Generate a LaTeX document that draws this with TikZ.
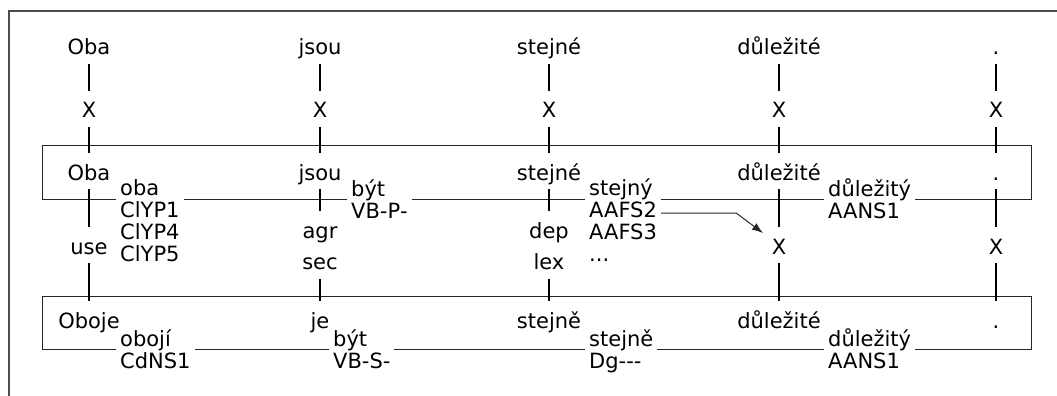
\documentclass[tikz,border=0pt]{standalone}
\usepackage{fontspec}
\setmainfont{DejaVu Sans}
\usetikzlibrary{arrows.meta, positioning}
\newcommand{\hy}{\mbox{-}}
\tikzstyle{every node}=[font=\fontsize{21pt}{21.7pt}\selectfont]
\tikzstyle{word}=[inner sep=3pt, text height=24pt, text depth=6pt]
\tikzstyle{lbl}=[word, fill=white]
\tikzstyle{lemma}=[fill=white, align=left, inner xsep=4pt, inner ysep=1pt, anchor=base west]
\tikzstyle{tick}=[line width=2pt]
\tikzstyle{frame}=[line width=1pt, black!85]

\begin{document}
\begin{tikzpicture}[x=1pt, y=-1pt, >={Latex[length=11pt,width=8pt]}, node distance=230pt]
    \useasboundingbox (0,0) rectangle (1057,396);
    \draw[line width=1.3pt, black!70] (9,396) |- (1057,11);
    % the two layers
    \draw[frame] (42,145) rectangle (1031,199);
    \draw[frame] (42,296) rectangle (1031,349);
    % lemmas and tags (placed by their last line)
    \node[lemma] (lOba) at (116,261) {oba\\ClYP1\\ClYP4\\ClYP5};
    \node[lemma] (lByt) at (347,218) {být\\VB\hy P\hy};
    \node[lemma] (lStejny) at (585,261) {stejný\\AAFS2\\AAFS3\\...};
    \node[lemma] (lDul) at (824,218) {důležitý\\AANS1};
    \node[lemma] (lOboji) at (116,368) {obojí\\CdNS1};
    \node[lemma] (lByt3) at (329,368) {být\\VB\hy S\hy};
    \node[lemma] (lStejne3) at (585,368) {stejně\\Dg\hy\hy\hy};
    \node[lemma] (lDul3) at (824,368) {důležitý\\AANS1};
    % input words
    \node[word, anchor=base] (oba) at (89,55) {Oba};
    \node[word, right of=oba, node distance=231pt] (jsou) {jsou};
    \node[word, right of=jsou, node distance=229pt] (stejne) {stejné};
    \node[word, right of=stejne] (dul) {důležité};
    \node[word, right of=dul, node distance=217pt] (dot) {.};
    % upper layer
    \node[word, below of=oba, node distance=125pt] (oba2) {Oba};
    \node[word, below of=jsou, node distance=125pt] (jsou2) {jsou};
    \node[word, below of=stejne, node distance=125pt] (stejne2) {stejné};
    \node[word, below of=dul, node distance=125pt] (dul2) {důležité};
    \node[word, below of=dot, node distance=125pt] (dot2) {.};
    % lower layer
    \node[word, below of=oba2, node distance=148pt] (oboje) {Oboje};
    \node[word, below of=jsou2, node distance=148pt] (je) {je};
    \node[word, below of=stejne2, node distance=148pt] (stejne3) {stejně};
    \node[word, below of=dul2, node distance=148pt] (dul3) {důležité};
    \node[word, below of=dot2, node distance=148pt] (dot3) {.};
    % links
    \draw[tick] (oba) -- node[lbl] (x1) {X} (oba2);
    \draw[tick] (jsou) -- node[lbl] (x2) {X} (jsou2);
    \draw[tick] (stejne) -- node[lbl] (x3) {X} (stejne2);
    \draw[tick] (dul) -- node[lbl] (x4) {X} (dul2);
    \draw[tick] (dot) -- node[lbl] (x5) {X} (dot2);
    \draw[tick] (oba2) -- node[lbl] (use) {use} (oboje);
    \draw[tick] (jsou2) -- node[lbl, pos=.36] (agr) {agr} node[lbl, pos=.64] (sec) {sec} (je);
    \draw[tick] (stejne2) -- node[lbl, pos=.36] (dep) {dep} node[lbl, pos=.64] (lex) {lex} (stejne3);
    \draw[tick] (dul2) -- node[lbl] (xdul) {X} (dul3);
    \draw[tick] (dot2) -- node[lbl] (xdot) {X} (dot3);
    \coordinate (aafs) at (lStejny.east |- 0,213);
    \draw[frame, ->, shorten >=6pt] (aafs) -- ++(75,0) -- (xdul);
\end{tikzpicture}
\end{document}
